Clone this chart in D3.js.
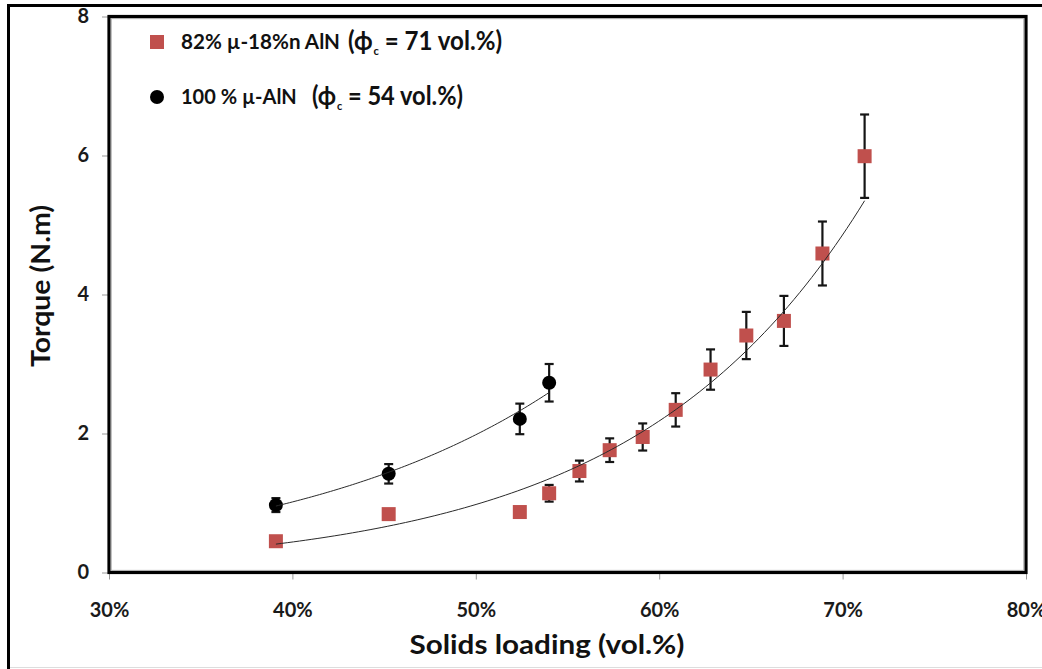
<!DOCTYPE html>
<html><head><meta charset="utf-8">
<script src="https://cdn.jsdelivr.net/npm/d3@7"></script>
<style>body{margin:0;background:#fff}svg{display:block}</style>
</head><body>
<svg id="c" width="1042" height="669"></svg>
<script>
// ---- data ----
const xTicks = [0.3, 0.4, 0.5, 0.6, 0.7, 0.8];
const yTicks = [0, 2, 4, 6, 8];
// 100 % micro-AlN
const microX = [0.391, 0.4525, 0.524, 0.540];
const microY = [0.97, 1.42, 2.21, 2.73];
const microErr = [0.10, 0.14, 0.22, 0.27];
// 82% micro - 18% nano AlN
const mixX = [0.391, 0.4525, 0.524, 0.540, 0.5565, 0.573, 0.591, 0.609, 0.628, 0.6475, 0.668, 0.689, 0.712];
const mixY = [0.45, 0.84, 0.87, 1.14, 1.46, 1.76, 1.95, 2.34, 2.92, 3.41, 3.62, 4.59, 5.99];
const mixErr = [0, 0, 0, 0.12, 0.15, 0.17, 0.195, 0.24, 0.29, 0.34, 0.36, 0.46, 0.60];
const legendLabels = ["82% µ-18%n AlN", "100 % µ-AlN"];
const legendPhi = ["71", "54"];
const xTitle = "Solids loading (vol.%)";
const yTitle = "Torque (N.m)";

// ---- drawing ----
const W = 1042, H = 669;
const FONT = "Lato, 'Open Sans', 'DejaVu Sans', sans-serif";
const RED = "#C0504D";
const svg = d3.select("#c");
const x = d3.scaleLinear().domain([0.3, 0.8]).range([109, 1026]);
const y = d3.scaleLinear().domain([0, 8]).range([572.5, 16.5]);

function fitWidth(sel, w) {
  const L = sel.node().getComputedTextLength();
  if (Math.abs(L - w) > 1.5) sel.attr("textLength", w).attr("lengthAdjust", "spacingAndGlyphs");
}

svg.append("rect").attr("width", W).attr("height", H).attr("fill", "#fff");
// outer frame
svg.append("line").attr("x1", 7).attr("x2", W).attr("y1", 5.5).attr("y2", 5.5).attr("stroke", "#000").attr("stroke-width", 3);
svg.append("line").attr("x1", 8.5).attr("x2", 8.5).attr("y1", 4).attr("y2", H).attr("stroke", "#000").attr("stroke-width", 3);
svg.append("line").attr("x1", 10).attr("x2", W).attr("y1", 667.5).attr("y2", 667.5).attr("stroke", "#ddd").attr("stroke-width", 1);

// axes
const gx = svg.append("g").attr("transform", `translate(0,${y(0)})`)
  .call(d3.axisBottom(x).tickValues(xTicks).tickFormat(d3.format(".0%")).tickSize(7).tickPadding(23));
gx.select(".domain").remove();
gx.selectAll("line").attr("stroke", "#999");
gx.selectAll("text").attr("font-family", FONT).attr("font-weight", "bold").attr("font-size", 20).attr("fill", "#1a1a1a");

const gy = svg.append("g").attr("transform", `translate(${x(0.3)},0)`)
  .call(d3.axisLeft(y).tickValues(yTicks).tickFormat(d3.format("d")).tickSize(7).tickPadding(13));
gy.select(".domain").remove();
gy.selectAll("line").attr("stroke", "#999");
gy.selectAll("text").attr("font-family", FONT).attr("font-weight", "bold").attr("font-size", 20).attr("fill", "#1a1a1a");

// plot frame
const fx0 = x(0.3), fx1 = x(0.8), fy0 = y(8), fy1 = y(0);
svg.append("rect").attr("x", fx0).attr("y", fy0).attr("width", fx1 - fx0).attr("height", fy1 - fy0)
  .attr("fill", "none").attr("stroke", "#000").attr("stroke-width", 3.2);
svg.append("rect").attr("x", fx0 + 2.2).attr("y", fy0 + 2.2).attr("width", fx1 - fx0 - 4.4).attr("height", fy1 - fy0 - 4.4)
  .attr("fill", "none").attr("stroke", "#9a9a9a").attr("stroke-width", 0.8);

// titles
const xt = svg.append("text").attr("x", 547).attr("y", 654).attr("text-anchor", "middle")
  .attr("font-family", FONT).attr("font-weight", "bold").attr("font-size", 26).attr("fill", "#111").text(xTitle);
fitWidth(xt, 275);
const yt = svg.append("text").attr("transform", "translate(50,286) rotate(-90)").attr("text-anchor", "middle")
  .attr("font-family", FONT).attr("font-weight", "bold").attr("font-size", 26).attr("fill", "#111").text(yTitle);
fitWidth(yt, 162);

// fits (least squares on ln y, like an exponential trendline)
function expFit(xs, ys) {
  const lx = xs, ly = ys.map(Math.log);
  const mx = d3.mean(lx), my = d3.mean(ly);
  const b = d3.sum(lx, (v, i) => (v - mx) * (ly[i] - my)) / d3.sum(lx, v => (v - mx) * (v - mx));
  const c = my - b * mx;
  return v => Math.exp(c + b * v);
}
function curve(xs, ys) {
  const f = expFit(xs, ys);
  const lo = d3.min(xs), hi = d3.max(xs);
  return d3.range(0, 101).map(i => { const v = lo + (hi - lo) * i / 100; return [v, f(v)]; });
}
const line = d3.line().x(d => x(d[0])).y(d => y(d[1]));

function errorBars(xs, ys, es) {
  const g = svg.append("g").attr("stroke", "#151515").attr("stroke-width", 2.2).attr("fill", "none");
  xs.forEach((v, i) => {
    if (!es[i]) return;
    const cx = x(v), t = y(ys[i] + es[i]), b = y(ys[i] - es[i]);
    g.append("line").attr("x1", cx).attr("x2", cx).attr("y1", t).attr("y2", b);
    g.append("line").attr("x1", cx - 4.5).attr("x2", cx + 4.5).attr("y1", t).attr("y2", t);
    g.append("line").attr("x1", cx - 4.5).attr("x2", cx + 4.5).attr("y1", b).attr("y2", b);
  });
}
errorBars(mixX, mixY, mixErr);
errorBars(microX, microY, microErr);

svg.append("g").selectAll("rect").data(mixX).join("rect")
  .attr("x", (d) => x(d) - 7).attr("y", (d, i) => y(mixY[i]) - 7).attr("width", 14).attr("height", 14)
  .attr("fill", RED);
svg.append("g").selectAll("circle").data(microX).join("circle")
  .attr("cx", d => x(d)).attr("cy", (d, i) => y(microY[i])).attr("r", 7).attr("fill", "#000");

svg.append("path").datum(curve(mixX, mixY)).attr("d", line).attr("fill", "none").attr("stroke", "#2a2a2a").attr("stroke-width", 1);
svg.append("path").datum(curve(microX, microY)).attr("d", line).attr("fill", "none").attr("stroke", "#2a2a2a").attr("stroke-width", 1);

// legend
const legRows = [
  { cy: 42, lw: 159, px: 348, pw: 154 },
  { cy: 97, lw: 116, px: 312, pw: 151 }
];
legRows.forEach((r, i) => {
  if (i === 0) svg.append("rect").attr("x", 150).attr("y", r.cy - 7).attr("width", 14).attr("height", 14).attr("fill", RED);
  else svg.append("circle").attr("cx", 157).attr("cy", r.cy).attr("r", 7).attr("fill", "#000");
  const t1 = svg.append("text").attr("x", 181).attr("y", r.cy + 7).attr("font-family", FONT).attr("font-weight", "bold")
    .attr("font-size", 20).attr("fill", "#111").text(legendLabels[i]);
  fitWidth(t1, r.lw);
  const t2 = svg.append("text").attr("x", r.px).attr("y", r.cy + 8).attr("font-family", FONT).attr("font-weight", "bold")
    .attr("font-size", 26).attr("fill", "#111");
  t2.append("tspan").text("(\u03D5");
  t2.append("tspan").attr("font-size", 12).attr("dx", 1).attr("dy", 5).text("c");
  t2.append("tspan").attr("dy", -5).text(" = " + legendPhi[i] + " vol.%)");
  fitWidth(t2, r.pw);
});
</script>
</body></html>
